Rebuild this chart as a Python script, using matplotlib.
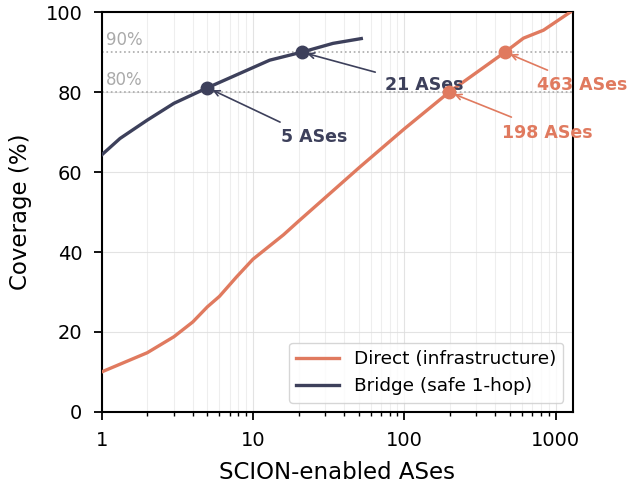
import matplotlib
matplotlib.use("Agg")
import matplotlib.pyplot as plt

direct_x = [1, 2, 3, 4, 5, 6, 7.8, 10, 15.9, 20, 51, 100, 198, 463, 614, 833, 1250]
direct_y = [10, 14.8, 18.8, 22.5, 26.3, 28.9, 33.8, 38.2, 44.3, 47.7, 61.3, 70.8, 80, 90, 93.5, 95.5, 100]

bridge_x = [1, 1.32, 2, 3, 5, 8.2, 12.9, 21, 33.8, 52]
bridge_y = [64.3, 68.4, 73, 77.2, 81.1, 84.7, 88, 90, 92.2, 93.4]

marker_x = [5, 21, 198, 463]
marker_y = [81.1, 90, 80, 90]
marker_labels = ["5 ASes", "21 ASes", "198 ASes", "463 ASes"]
label_x = [25.4, 135.7, 885, 1510]
label_y = [68.8, 81.75, 69.75, 81.75]
tail_x = [15.1, 64.3, 511, 885]
tail_y = [72.5, 85, 73.75, 85.5]

c_direct = "#E07A5F"
c_bridge = "#3D405B"
marker_colors = [c_bridge, c_bridge, c_direct, c_direct]

fig = plt.figure(figsize=(6.28, 4.88), dpi=100)
ax = fig.add_axes([0.162, 0.156, 0.75, 0.819])

ax.set_xscale("log")
ax.set_xlim(1, 1300)
ax.set_ylim(0, 100)
ax.grid(True, which="major", color="#dddddd", lw=0.8, alpha=0.8)
ax.grid(True, which="minor", axis="x", color="#eeeeee", lw=0.8)
ax.set_axisbelow(True)

for lvl in (80, 90):
    ax.axhline(lvl, color="#aaaaaa", ls=":", lw=1.2, zorder=1)
    ax.text(1.07, lvl + 0.8, f"{lvl}%", color="#aaaaaa", fontsize=12, va="bottom", ha="left")

ax.plot(direct_x, direct_y, color=c_direct, lw=2.4, label="Direct (infrastructure)", zorder=3)
ax.plot(bridge_x, bridge_y, color=c_bridge, lw=2.4, label="Bridge (safe 1-hop)", zorder=3)

for x, y, c, lab, lx, ly, tx, ty in zip(marker_x, marker_y, marker_colors, marker_labels,
                                        label_x, label_y, tail_x, tail_y):
    ax.plot([x], [y], "o", color=c, ms=9, zorder=4)
    ax.annotate("", xy=(x, y), xytext=(tx, ty), annotation_clip=False,
                arrowprops=dict(arrowstyle="->", color=c, lw=1.2, shrinkA=0, shrinkB=4))
    ax.text(lx, ly, lab, color=c, fontsize=12.5, fontweight="bold", ha="center", va="center",
            clip_on=False)

for s in ax.spines.values():
    s.set_linewidth(1.5)

ax.set_xticks([1, 10, 100, 1000])
ax.set_xticklabels(["1", "10", "100", "1000"])
ax.tick_params(which="major", labelsize=14, length=6, width=1.3, pad=8)
ax.tick_params(which="minor", length=3, width=1.0)
ax.set_xlabel("SCION-enabled ASes", fontsize=16.5, labelpad=8)
ax.set_ylabel("Coverage (%)", fontsize=16.5, labelpad=10)
ax.legend(loc="lower right", fontsize=13.3, handlelength=2.3)

fig.savefig("out.png", dpi=100)
